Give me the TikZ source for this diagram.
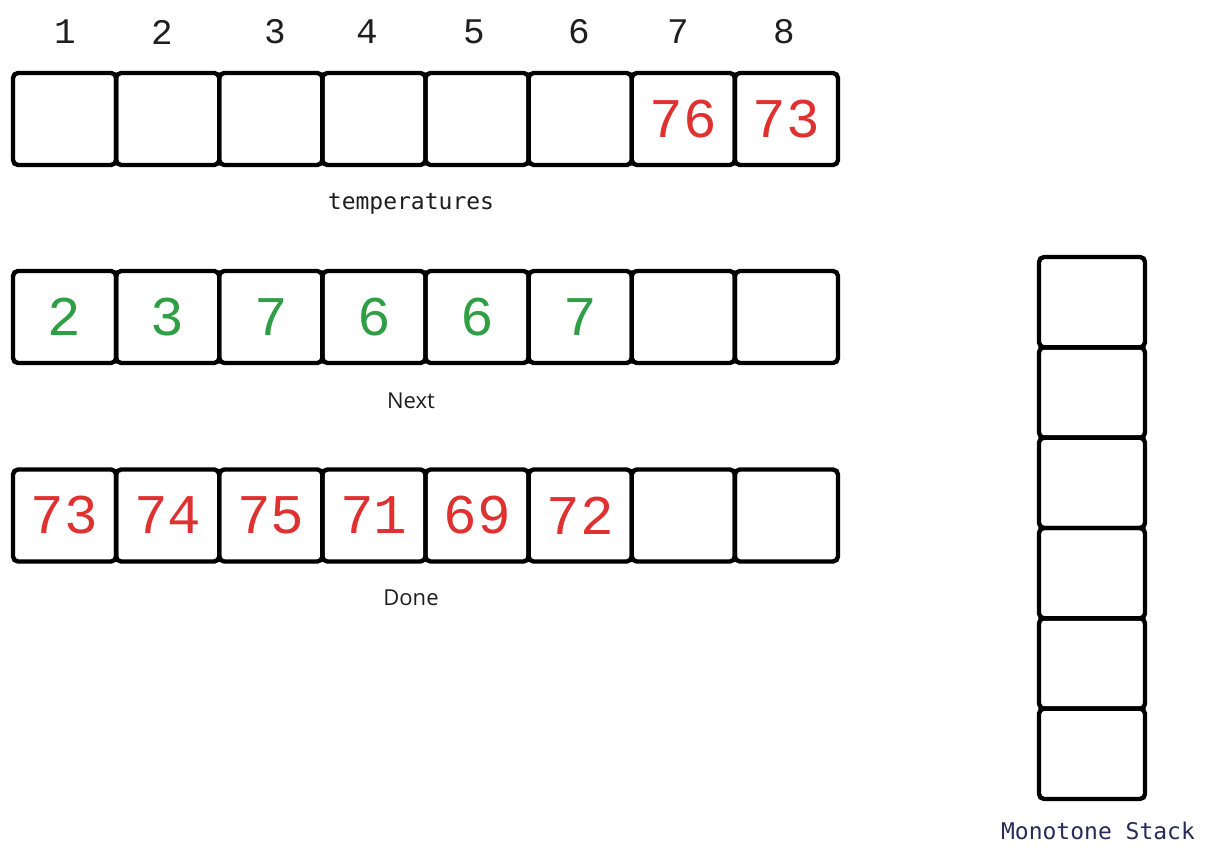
\documentclass[tikz,border=0pt]{standalone}
\usepackage{fontspec}
\newfontfamily\monofont{DejaVu Sans Mono}
\newfontfamily\digitfont{Liberation Mono}
\newfontfamily\labelsans{Open Sans}
\definecolor{redtxt}{HTML}{E03131}
\definecolor{greentxt}{HTML}{2F9E44}
\definecolor{ink}{HTML}{1E1E1E}
\definecolor{stackink}{HTML}{2A2A5A}
\tikzset{
  cellbox/.style={draw=black, line width=4.4pt, rounded corners=5pt, inner sep=0pt,
    minimum width=103.1pt, minimum height=92pt, font=\digitfont\fontsize{56}{56}\selectfont},
  stackbox/.style={cellbox, minimum width=106pt, minimum height=90.3pt},
  idxlabel/.style={font=\digitfont\fontsize{36}{36}\selectfont, text=ink},
  monolabel/.style={font=\monofont\fontsize{23}{23}\selectfont, text=ink},
  sanslabel/.style={font=\labelsans\fontsize{22}{22}\selectfont, text=ink},
}
\begin{document}
\begin{tikzpicture}[x=1pt,y=-1pt]
\useasboundingbox (0,0) rectangle (1210,858);
% index labels
\foreach \i/\x in {1/65,2/162,3/275,4/367,5/474,6/579,7/678,8/784}
  \node[idxlabel] (idx\i) at (\x,32) {\i};
% temperatures row
\foreach \i/\v in {1/,2/,3/,4/,5/,6/,7/76,8/73}
  \node[cellbox, text=redtxt] (t\i) at ({13+103.125*(\i-0.5)},119) {\v};
\node[monolabel] (tlab) at (411,204) {temperatures};
% Next row
\foreach \i/\v in {1/2,2/3,3/7,4/6,5/6,6/7,7/,8/}
  \node[cellbox, text=greentxt] (n\i) at ({13+103.125*(\i-0.5)},317) {\v};
\node[sanslabel] (nlab) at (411,401) {Next};
% Done row
\foreach \i/\v in {1/73,2/74,3/75,4/71,5/69,6/72,7/,8/}
  \node[cellbox, text=redtxt] (d\i) at ({13+103.125*(\i-0.5)},515.5) {\v};
\node[sanslabel] (dlab) at (411,598) {Done};
% Monotone stack
\foreach \k in {1,...,6}
  \node[stackbox] (s\k) at (1092,{257+90.33*(\k-0.5)}) {};
\node[monolabel, text=stackink] (slab) at (1098,831) {Monotone Stack};
\end{tikzpicture}
\end{document}
